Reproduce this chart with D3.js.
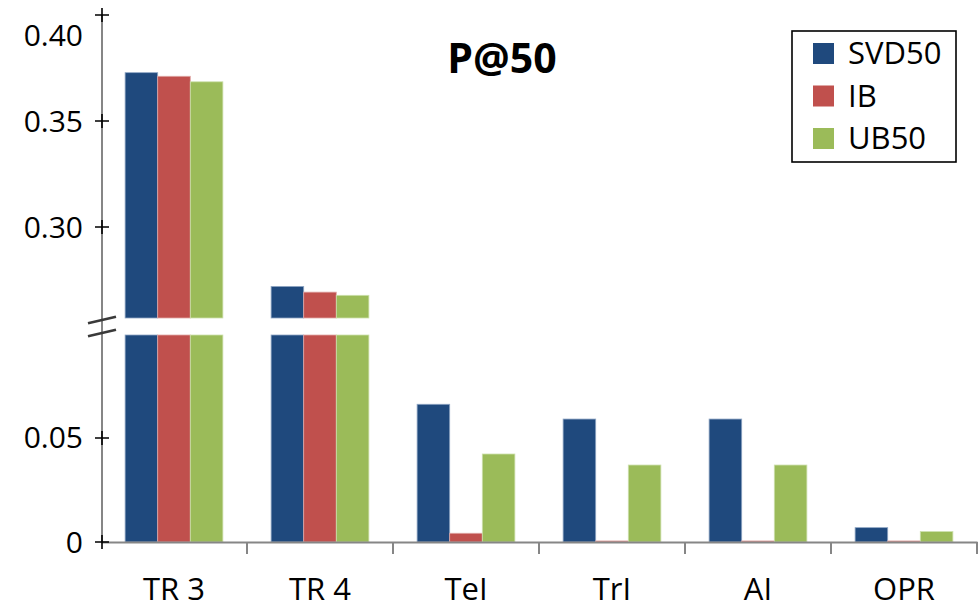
<!DOCTYPE html>
<html>
<head>
<meta charset="utf-8">
<script src="https://cdn.jsdelivr.net/npm/d3@7"></script>
<style>
  html, body { margin: 0; padding: 0; background: #fff; }
  .container { width: 980px; height: 609px; }
  text { font-family: "Open Sans", "Noto Sans", sans-serif; fill: #000; }
</style>
</head>
<body>
<div class="container"></div>
<script>
const WIDTH = 980;
const HEIGHT = 609;

// data
var categories = ["TR 3", "TR 4", "TeI", "TrI", "AI", "OPR"];
var seriesNames = ["SVD50", "IB", "UB50"];
var svd50 = [0.3728, 0.2720, 0.0662, 0.0591, 0.0591, 0.0069];
var ib = [0.3711, 0.2693, 0.0042, 0.0005, 0.0005, 0.0005];
var ub50 = [0.3685, 0.2678, 0.0423, 0.0370, 0.0370, 0.0050];
var seriesColors = ["#1F497D", "#C0504D", "#9BBB59"];
var edgeColors = ["#8fa6c4", "#e0a8a6", "#cde0ad"];

// broken y axis: two segments
var lowTicks = [0, 0.05];
var lowTickLabels = ["0", "0.05"];
var highTicks = [0.30, 0.35, 0.40];
var highTickLabels = ["0.30", "0.35", "0.40"];
var LOW_DOMAIN = [0, 0.0995];
var HIGH_DOMAIN = [0.2571, 0.40];

var AXIS_X = 102;
var X_END = 977;
var BASE_Y = 542;

var xScale = d3.scaleBand()
    .domain(categories)
    .range([AXIS_X - 1, X_END])
    .padding(0);

var xInner = d3.scaleBand()
    .domain(seriesNames)
    .range([0, xScale.bandwidth()])
    .paddingInner(0)
    .paddingOuter(0.74);

var yLow = d3.scaleLinear().domain(LOW_DOMAIN).range([BASE_Y, 335]);
var yHigh = d3.scaleLinear().domain(HIGH_DOMAIN).range([318, 15]);

var translate = function(x, y){
    return "translate(" + x + "," + y + ")";
};

var buildRows = function(){
    var values = [svd50, ib, ub50];
    var rows = [];
    categories.forEach(function(cat, i){
        seriesNames.forEach(function(s, j){
            rows.push({cat: cat, series: s, idx: j, value: values[j][i]});
        });
    });
    return rows;
};

var drawBars = function(svg, rows){
    var g = svg.append("g");

    // lower segment
    g.selectAll("rect.low")
        .data(rows)
        .enter()
        .append("rect")
        .attr("class", "low")
        .attr("x", function(d){ return xScale(d.cat) + xInner(d.series); })
        .attr("width", xInner.bandwidth())
        .attr("y", function(d){ return yLow(Math.min(d.value, LOW_DOMAIN[1])); })
        .attr("height", function(d){ return BASE_Y - yLow(Math.min(d.value, LOW_DOMAIN[1])); })
        .attr("fill", function(d){ return seriesColors[d.idx]; })
        .attr("stroke", function(d){ return edgeColors[d.idx]; })
        .attr("stroke-width", 0.8);

    // upper segment for the tall bars
    var tall = rows.filter(function(d){ return d.value > HIGH_DOMAIN[0]; });
    g.selectAll("rect.high")
        .data(tall)
        .enter()
        .append("rect")
        .attr("class", "high")
        .attr("x", function(d){ return xScale(d.cat) + xInner(d.series); })
        .attr("width", xInner.bandwidth())
        .attr("y", function(d){ return yHigh(d.value); })
        .attr("height", function(d){ return yHigh(HIGH_DOMAIN[0]) - yHigh(d.value); })
        .attr("fill", function(d){ return seriesColors[d.idx]; })
        .attr("stroke", function(d){ return edgeColors[d.idx]; })
        .attr("stroke-width", 0.8);
};

var drawAxes = function(svg){
    // x axis with boundary ticks
    var xAxis = d3.axisBottom(xScale).tickSize(0).tickPadding(0).tickFormat("");
    var gx = svg.append("g")
        .attr("transform", translate(0, BASE_Y))
        .call(xAxis);
    gx.select(".domain").attr("stroke", "#868686").attr("stroke-width", 2);

    var bounds = categories.map(function(c){ return xScale(c) + xScale.bandwidth(); });
    gx.selectAll("line.bound")
        .data(bounds)
        .enter()
        .append("line")
        .attr("class", "bound")
        .attr("x1", function(d){ return d; })
        .attr("x2", function(d){ return d; })
        .attr("y1", 0)
        .attr("y2", 12)
        .attr("stroke", "#868686")
        .attr("stroke-width", 2);

    gx.selectAll("text.cat")
        .data(categories)
        .enter()
        .append("text")
        .attr("class", "cat")
        .attr("x", function(d){ return xScale(d) + xScale.bandwidth() / 2; })
        .attr("y", 58)
        .attr("text-anchor", "middle")
        .style("font-size", "31px")
        .text(function(d){ return d; });

    // y axis line
    svg.append("line")
        .attr("x1", AXIS_X).attr("x2", AXIS_X)
        .attr("y1", yHigh(HIGH_DOMAIN[1])).attr("y2", BASE_Y)
        .attr("stroke", "#868686")
        .attr("stroke-width", 2);

    var ticks = lowTicks.map(function(v, i){
        return {y: yLow(v), label: lowTickLabels[i], dy: 0};
    }).concat(highTicks.map(function(v, i){
        // the top label is pushed down like in the original
        return {y: yHigh(v), label: highTickLabels[i], dy: v === HIGH_DOMAIN[1] ? 20 : 0};
    }));

    var gy = svg.append("g");
    var tk = gy.selectAll("g.tick")
        .data(ticks)
        .enter()
        .append("g")
        .attr("transform", function(d){ return translate(AXIS_X, d.y); });

    tk.append("path")
        .attr("d", "M-7,0H7M0,-7V7")
        .attr("stroke", "#000")
        .attr("stroke-width", 1.6);

    tk.append("text")
        .attr("x", -19)
        .attr("y", function(d){ return d.dy; })
        .attr("dy", "0.35em")
        .attr("text-anchor", "end")
        .style("font-size", "30px")
        .text(function(d){ return d.label; });

    // break marks
    var mid = (yLow(LOW_DOMAIN[1]) + yHigh(HIGH_DOMAIN[0])) / 2;
    [-6.5, 6.5].forEach(function(off){
        svg.append("line")
            .attr("x1", AXIS_X - 14).attr("y1", mid + off + 3.3)
            .attr("x2", AXIS_X + 14).attr("y2", mid + off - 3.3)
            .attr("stroke", "#3a3a3a")
            .attr("stroke-width", 2.6);
    });
};

var drawLegend = function(svg){
    var lg = svg.append("g").attr("transform", translate(792, 31));
    lg.append("rect")
        .attr("width", 164)
        .attr("height", 131)
        .attr("fill", "#fff")
        .attr("stroke", "#000")
        .attr("stroke-width", 1.6);

    var items = lg.selectAll("g.item")
        .data(seriesNames)
        .enter()
        .append("g")
        .attr("transform", function(d, i){ return translate(0, 12 + i * 42.5); });

    items.append("rect")
        .attr("x", 21)
        .attr("width", 21)
        .attr("height", 21)
        .attr("fill", function(d, i){ return seriesColors[i]; });

    items.append("text")
        .attr("x", 56)
        .attr("y", 21)
        .style("font-size", "31px")
        .text(function(d){ return d; });
};

var loadChart = function(){
    var svg = d3.select(".container").append("svg")
        .attr("width", WIDTH)
        .attr("height", HEIGHT);

    drawBars(svg, buildRows());
    drawAxes(svg);
    drawLegend(svg);

    svg.append("text")
        .attr("x", 502)
        .attr("y", 73)
        .attr("text-anchor", "middle")
        .style("font-size", "41px")
        .style("font-weight", "bold")
        .text("P@50");
};

window.onload = loadChart;
</script>
</body>
</html>
